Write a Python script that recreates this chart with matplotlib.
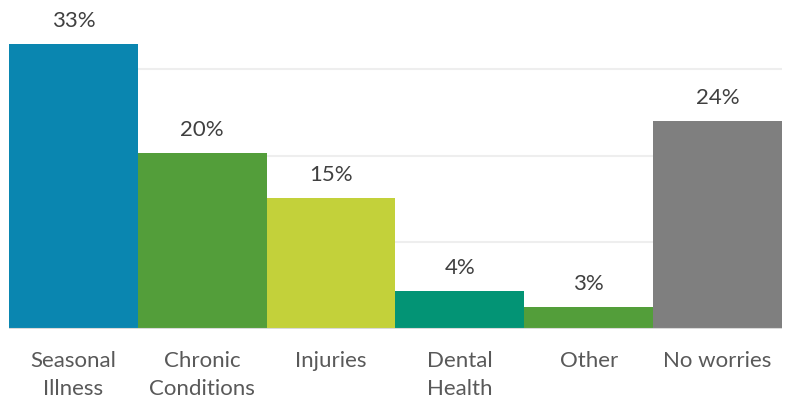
import matplotlib
matplotlib.use("Agg")
import matplotlib.pyplot as plt

categories = ["Seasonal\nIllness", "Chronic\nConditions", "Injuries", "Dental\nHealth", "Other", "No worries"]
values = [32.9, 20.3, 15.1, 4.4, 2.5, 24.0]
labels = ["33%", "20%", "15%", "4%", "3%", "24%"]
colors = ["#0A86B0", "#539E3A", "#C3D13A", "#039475", "#539E3A", "#7F7F7F"]

plt.rcParams['font.family'] = ['Lato', 'DejaVu Sans']

fig = plt.figure(figsize=(7.86, 4.03), dpi=100)
ax = fig.add_axes([9/786, 1 - 329/403, (782 - 9)/786, 329/403])
x = list(range(len(categories)))
ax.bar(x, values, width=1.0, color=colors, zorder=2)
ax.set_xlim(-0.5, len(categories) - 0.5)
ax.set_ylim(0, 38)
for g in [10, 20, 30]:
    ax.axhline(g, color="#EEEEEE", lw=1.5, zorder=1)
ax.axhline(0, color="#D9D9D9", lw=1.5, zorder=3)
for s in ax.spines.values():
    s.set_visible(False)
ax.set_yticks([])
ax.set_xticks(x)
ax.set_xticklabels(categories, fontsize=16, color="#595959", linespacing=1.5)
ax.tick_params(axis='x', length=0, pad=16)
for xi, v, lab in zip(x, values, labels):
    ax.annotate(lab, (xi, v), xytext=(0, 12.5), textcoords="offset points",
                ha="center", va="baseline", fontsize=16, color="#404040")
fig.savefig("out.png", dpi=100)
